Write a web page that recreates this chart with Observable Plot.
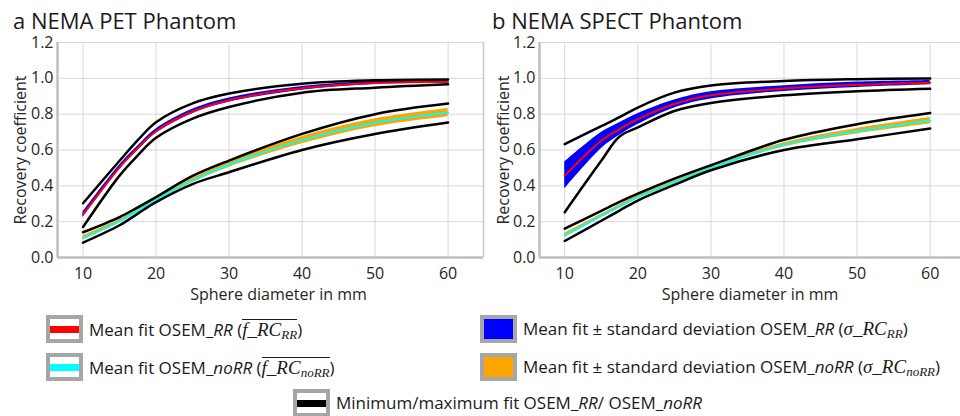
<!DOCTYPE html>
<html><head><meta charset="utf-8">
<script src="https://cdn.jsdelivr.net/npm/d3@7"></script>
<script src="https://cdn.jsdelivr.net/npm/@observablehq/plot@0.6"></script>
<style>
html,body{margin:0;padding:0;background:#fff;}
body{width:960px;height:416px;position:relative;overflow:hidden;font-family:"Open Sans",sans-serif;color:#1a1a1a;}
.title{position:absolute;top:10px;font-size:22px;line-height:20px;white-space:nowrap;}
.panel{position:absolute;top:32px;}
.leg{position:absolute;display:flex;align-items:center;font-size:17px;line-height:20px;white-space:nowrap;height:28px;}
.icon{box-sizing:border-box;width:37px;height:28px;border:4px solid #a6a6a6;background:#fff;display:flex;align-items:center;margin-right:6px;flex:none;}
.icon .bar{height:7px;width:100%;}
.m{font-family:"Liberation Serif",serif;font-style:italic;font-size:19px;}
.m sub{font-size:13px;vertical-align:-3px;line-height:0;}
.ol{display:inline-block;border-top:1.3px solid #1a1a1a;line-height:18px;padding-top:1px;}
i{font-style:italic;}
</style>
</head><body>
<div class="title" style="left:13px">a NEMA PET Phantom</div>
<div class="title" style="left:492px">b NEMA SPECT Phantom</div>
<div id="pa" class="panel" style="left:0px"></div>
<div id="pb" class="panel" style="left:484px"></div>
<div id="legend"></div>
<script>
// ---- data ----
const diam = [10, 15, 17.5, 20, 25, 30, 40, 50, 60];
const xTicks = [10, 20, 30, 40, 50, 60];
const yTicks = [0, 0.2, 0.4, 0.6, 0.8, 1.0, 1.2];

// a NEMA PET phantom
const petRRMax  = [0.303, 0.54, 0.655, 0.755, 0.86, 0.915, 0.97, 0.989, 0.994];
const petRRMean = [0.239, 0.503, 0.61, 0.705, 0.815, 0.878, 0.944, 0.974, 0.981];
const petRRMin  = [0.17, 0.457, 0.57, 0.668, 0.775, 0.84, 0.92, 0.948, 0.967];
const petRRSd   = [0.015, 0.013, 0.012, 0.012, 0.012, 0.012, 0.01, 0.008, 0.008];
const petNoMax  = [0.141, 0.226, 0.28, 0.337, 0.455, 0.541, 0.69, 0.80, 0.859];
const petNoMean = [0.109, 0.203, 0.262, 0.322, 0.43, 0.518, 0.655, 0.752, 0.809];
const petNoMin  = [0.083, 0.18, 0.245, 0.309, 0.41, 0.476, 0.60, 0.689, 0.753];
const petNoSd   = [0.012, 0.01, 0.01, 0.01, 0.012, 0.015, 0.02, 0.022, 0.023];

// b NEMA SPECT phantom
const spRRMax  = [0.633, 0.733, 0.783, 0.837, 0.92, 0.96, 0.985, 0.995, 0.999];
const spRRMean = [0.457, 0.652, 0.717, 0.772, 0.857, 0.905, 0.943, 0.964, 0.976];
const spRRMin  = [0.253, 0.54, 0.675, 0.726, 0.818, 0.862, 0.905, 0.928, 0.942];
const spRRSd   = [0.075, 0.045, 0.035, 0.03, 0.022, 0.02, 0.016, 0.015, 0.012];
const spNoMax  = [0.161, 0.26, 0.31, 0.356, 0.44, 0.515, 0.657, 0.744, 0.806];
const spNoMean = [0.124, 0.232, 0.285, 0.337, 0.42, 0.5, 0.629, 0.705, 0.763];
const spNoMin  = [0.092, 0.205, 0.262, 0.318, 0.405, 0.487, 0.60, 0.66, 0.72];
const spNoSd   = [0.012, 0.01, 0.01, 0.01, 0.01, 0.01, 0.012, 0.015, 0.018];

const xLabel = "Sphere diameter in mm";
const yLabel = "Recovery coefficient";
const legendLabels = [
  'Mean fit OSEM_<i>RR</i> (<span class="m ol">f_RC<sub>RR</sub></span>)',
  'Mean fit ± standard deviation OSEM_<i>RR</i> (<span class="m">σ_RC<sub>RR</sub></span>)',
  'Mean fit OSEM_<i>noRR</i> (<span class="m ol">f_RC<sub>noRR</sub></span>)',
  'Mean fit ± standard deviation OSEM_<i>noRR</i> (<span class="m">σ_RC<sub>noRR</sub></span>)',
  'Minimum/maximum fit OSEM_<i>RR</i>/ OSEM_<i>noRR</i>'
];

// ---- drawing ----
const pts = ys => diam.map((x, i) => ({x, y: ys[i]}));
const band = (m, sd) => diam.map((x, i) => ({x, lo: m[i] - sd[i], hi: m[i] + sd[i]}));
const RED = "#ff0000", BLUE = "#0000ff", CYAN = "#00ffff", ORANGE = "#ffa500";
const FONT = '"Open Sans", sans-serif';

function panel(s, o) {
  const curve = "catmull-rom";
  return Plot.plot({
    width: o.width, height: 275,
    marginTop: 10, marginBottom: 50, marginLeft: o.ml, marginRight: o.mr,
    style: {fontFamily: FONT, fontSize: "16px", color: "#262626", background: "transparent", overflow: "visible"},
    x: {domain: o.xd},
    y: {domain: [0, 1.2]},
    marks: [
      Plot.gridX(xTicks, {stroke: "#d9d9d9", strokeOpacity: 1}),
      Plot.gridY(yTicks, {stroke: "#d9d9d9", strokeOpacity: 1}),
      o.frameRight ? Plot.ruleX([o.xd[1]], {stroke: "#c8c8c8", strokeWidth: 1.5}) : null,
      Plot.ruleX([o.xd[0]], {stroke: "#bfbfbf", strokeWidth: 2.5}),
      Plot.ruleY([0], {stroke: "#bfbfbf", strokeWidth: 2.5}),
      Plot.axisX(xTicks, {tickSize: 0, tickPadding: 10, label: null}),
      Plot.axisY(yTicks, {tickSize: 0, tickPadding: 4, tickFormat: d3.format(".1f"), label: null}),
      Plot.text([xLabel], {frameAnchor: "bottom", dy: 42, dx: o.xlDx, fontSize: 16, fill: "#262626"}),
      Plot.text([yLabel], {frameAnchor: "left", dx: o.ylOff, rotate: -90, textAnchor: "middle", fontSize: 16, fill: "#262626"}),
      // RR group
      Plot.areaY(band(s.rrMean, s.rrSd), {x: "x", y1: "lo", y2: "hi", fill: BLUE, curve}),
      Plot.line(pts(s.rrMean), {x: "x", y: "y", stroke: RED, strokeWidth: 2, curve}),
      // noRR group
      Plot.areaY(band(s.noMean, s.noSd), {x: "x", y1: "lo", y2: "hi", fill: ORANGE, curve}),
      Plot.line(pts(s.noMean), {x: "x", y: "y", stroke: CYAN, strokeWidth: 2, curve}),
      // min / max
      ...[s.rrMax, s.rrMin, s.noMax, s.noMin].map(a =>
        Plot.line(pts(a), {x: "x", y: "y", stroke: "#000", strokeWidth: 2.5, curve}))
    ]
  });
}

document.getElementById("pa").append(panel(
  {rrMax: petRRMax, rrMean: petRRMean, rrMin: petRRMin, rrSd: petRRSd,
   noMax: petNoMax, noMean: petNoMean, noMin: petNoMin, noSd: petNoSd},
  {width: 484, ml: 57, mr: 1, xd: [6.5, 64.85], frameRight: true, xlDx: 8, ylOff: -37}));
document.getElementById("pb").append(panel(
  {rrMax: spRRMax, rrMean: spRRMean, rrMin: spRRMin, rrSd: spRRSd,
   noMax: spNoMax, noMean: spNoMean, noMin: spNoMin, noSd: spNoSd},
  {width: 476, ml: 55, mr: 0, xd: [6.55, 64.15], frameRight: false, xlDx: 0, ylOff: -36}));

// legend
const legendPos = [
  {left: 46, top: 315, kind: "line", color: RED},
  {left: 480, top: 315, kind: "fill", color: BLUE},
  {left: 46, top: 353, kind: "line", color: CYAN},
  {left: 480, top: 353, kind: "fill", color: ORANGE},
  {left: 293, top: 389, kind: "line", color: "#000"}
];
const leg = document.getElementById("legend");
legendLabels.forEach((lab, i) => {
  const p = legendPos[i];
  const d = document.createElement("div");
  d.className = "leg";
  d.style.left = p.left + "px";
  d.style.top = p.top + "px";
  const icon = p.kind === "line"
    ? `<span class="icon"><span class="bar" style="background:${p.color}"></span></span>`
    : `<span class="icon" style="background:${p.color}"></span>`;
  d.innerHTML = icon + `<span>${lab}</span>`;
  leg.append(d);
});
</script>
</body></html>
